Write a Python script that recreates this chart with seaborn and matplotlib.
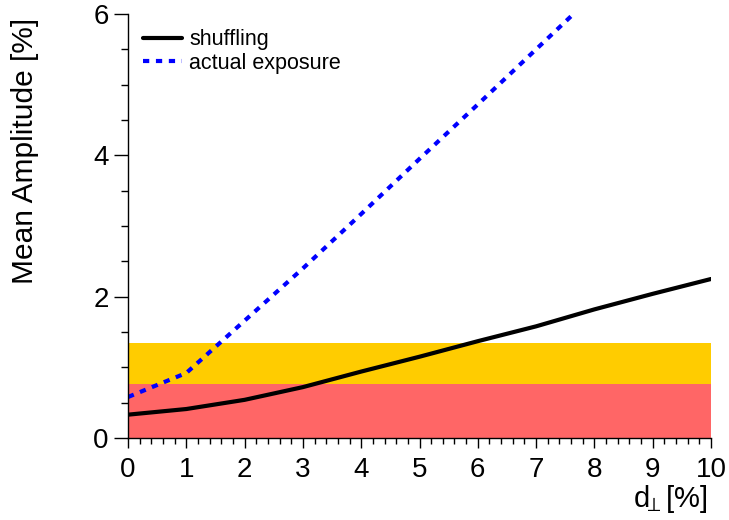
import numpy as np
import pandas as pd
import matplotlib
matplotlib.use("Agg")
import matplotlib.pyplot as plt
import seaborn as sns
from matplotlib.ticker import MultipleLocator

sns.set_style("ticks")
plt.rcParams['font.family'] = ['Liberation Sans', 'DejaVu Sans']
plt.rcParams['mathtext.fontset'] = 'custom'
plt.rcParams['mathtext.rm'] = 'Liberation Sans'
plt.rcParams['text.color'] = 'black'
plt.rcParams['axes.labelcolor'] = 'black'
plt.rcParams['xtick.color'] = 'black'
plt.rcParams['ytick.color'] = 'black'
plt.rcParams['axes.edgecolor'] = 'black'

# data
d_perp = [0, 1, 2, 3, 4, 5, 6, 7, 8, 9, 10]
shuffling = [0.33, 0.41, 0.54, 0.72, 0.94, 1.15, 1.37, 1.58, 1.82, 2.04, 2.25]
exposure_x = [0, 1, 2, 3, 4, 5, 6, 7, 8]
actual_exposure = [0.58, 0.92, 1.66, 2.40, 3.17, 3.95, 4.72, 5.50, 6.28]
band_red = (0.0, 0.76)
band_yellow = (0.76, 1.35)

df_shuf = pd.DataFrame({'d': d_perp, 'amp': shuffling})
df_exp = pd.DataFrame({'d': exposure_x, 'amp': actual_exposure})

fig = plt.figure(figsize=(7.29, 5.2), dpi=100)
ax = fig.add_axes([0.1756, 0.1577, 0.7997, 0.8154])

ax.axhspan(*band_red, color='#ff6666', lw=0, zorder=0)
ax.axhspan(*band_yellow, color='#ffcc00', lw=0, zorder=0)

sns.lineplot(data=df_shuf, x='d', y='amp', ax=ax, color='black', lw=3,
             label='shuffling')
sns.lineplot(data=df_exp, x='d', y='amp', ax=ax, color='#0000ff', lw=3,
             dashes=False, label='actual exposure')
ax.lines[1].set_dashes((1.5, 1.6))

ax.set_xlim(0, 10)
ax.set_ylim(0, 6)
ax.xaxis.set_major_locator(MultipleLocator(1))
ax.xaxis.set_minor_locator(MultipleLocator(0.2))
ax.yaxis.set_major_locator(MultipleLocator(2))
ax.yaxis.set_minor_locator(MultipleLocator(0.5))
ax.tick_params(axis='y', which='major', length=10, width=1, labelsize=20, pad=4)
ax.tick_params(axis='y', which='minor', length=5, width=1)
ax.tick_params(axis='x', which='major', length=7, width=1, labelsize=20, pad=7)
ax.tick_params(axis='x', which='minor', length=4, width=1)
for s in ['top', 'right']:
    ax.spines[s].set_visible(False)
for s in ['left', 'bottom']:
    ax.spines[s].set_linewidth(1)

ax.set_ylabel('Mean Amplitude [%]', fontsize=21.5)
ax.yaxis.set_label_coords(-0.177, 0.99)
ax.yaxis.label.set_ha('right')
ax.yaxis.label.set_va('center')
ax.set_xlabel(r'd$_{\!\!\perp}$[%]', fontsize=21)
ax.xaxis.set_label_coords(0.995, -0.105)
ax.xaxis.label.set_ha('right')

leg = ax.legend(loc='upper left', frameon=False, fontsize=15.5,
                handlelength=1.8, handletextpad=0.35, labelspacing=0.12,
                bbox_to_anchor=(0.0, 1.0), borderaxespad=0.3)

fig.savefig('out.png', dpi=100)
